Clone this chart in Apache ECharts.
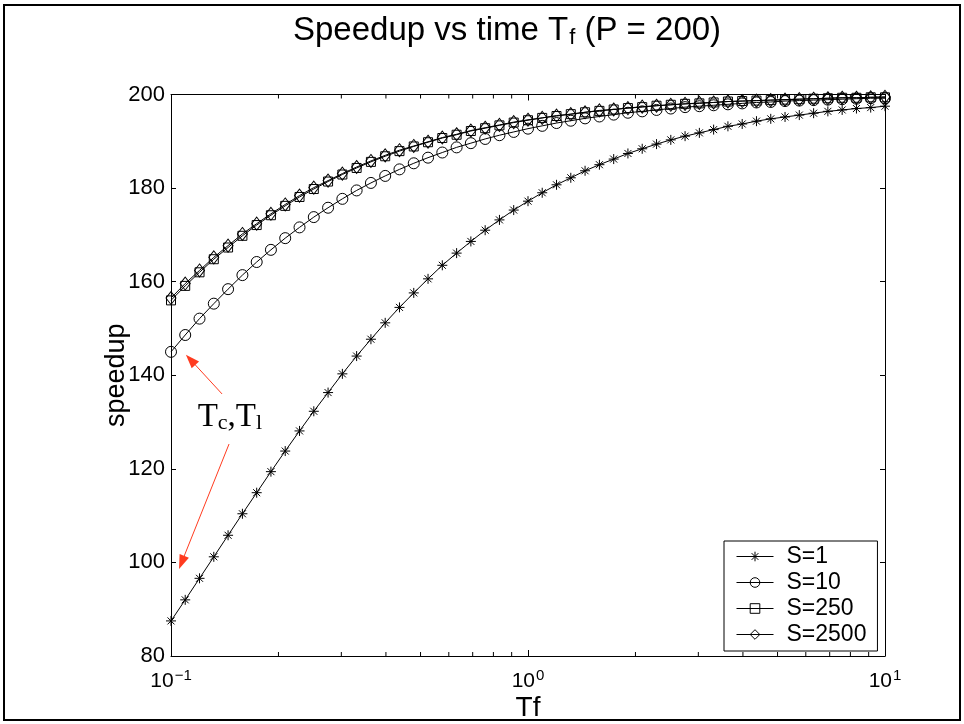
<!DOCTYPE html>
<html><head><meta charset="utf-8">
<script src="https://cdn.jsdelivr.net/npm/echarts@6/dist/echarts.min.js"></script>
<style>html,body{margin:0;padding:0;background:#fff}#c{width:964px;height:724px}</style>
</head><body><div id="c"></div>
<script>
// Tf sample positions (log-spaced)
const tf = [0.1,0.1096,0.1202,0.1318,0.1445,0.1585,0.1738,0.1905,0.2089,0.2291,0.2512,0.2754,0.3020,0.3311,0.3631,0.3981,0.4365,0.4786,0.5248,0.5754,0.6310,0.6918,0.7586,0.8318,0.9120,1.0,1.096,1.202,1.318,1.445,1.585,1.738,1.905,2.089,2.291,2.512,2.754,3.020,3.311,3.631,3.981,4.365,4.786,5.248,5.754,6.310,6.918,7.586,8.318,9.120,10];
const s1 = [87.5,92.0,96.6,101.2,105.8,110.4,114.9,119.4,123.8,128.1,132.3,136.3,140.3,144.1,147.7,151.2,154.5,157.6,160.6,163.5,166.1,168.6,171.0,173.2,175.3,177.2,179.0,180.7,182.2,183.7,185.0,186.2,187.4,188.4,189.4,190.3,191.1,191.8,192.5,193.2,193.7,194.3,194.8,195.2,195.6,196.0,196.4,196.7,197.0,197.2,197.5];
const s10 = [145.0,148.6,152.1,155.3,158.4,161.4,164.2,166.8,169.3,171.6,173.8,175.8,177.7,179.5,181.1,182.6,184.0,185.3,186.5,187.6,188.7,189.6,190.5,191.3,192.0,192.7,193.3,193.9,194.4,194.9,195.3,195.7,196.1,196.4,196.7,197.0,197.3,197.5,197.7,197.9,198.1,198.3,198.4,198.6,198.7,198.8,198.9,199.0,199.1,199.2,199.2];
const s250 = [156.0,159.1,162.0,164.8,167.3,169.8,172.1,174.2,176.2,178.1,179.8,181.4,182.9,184.3,185.6,186.8,187.9,188.9,189.8,190.7,191.4,192.2,192.8,193.4,194.0,194.5,195.0,195.4,195.8,196.2,196.5,196.8,197.1,197.3,197.6,197.8,198.0,198.1,198.3,198.5,198.6,198.7,198.8,198.9,199.0,199.1,199.2,199.3,199.3,199.4,199.4];
const s2500 = [156.5,159.6,162.4,165.2,167.7,170.2,172.4,174.5,176.5,178.4,180.1,181.6,183.1,184.5,185.8,187.0,188.1,189.0,189.9,190.8,191.5,192.3,192.9,193.5,194.1,194.6,195.0,195.5,195.8,196.2,196.6,196.8,197.1,197.4,197.6,197.8,198.0,198.2,198.3,198.5,198.6,198.7,198.8,198.9,199.0,199.1,199.2,199.3,199.3,199.4,199.5];
const seriesNames = ['S=1','S=10','S=250','S=2500'];
const xTickExps = ['\u22121','0','1'];
const xMinorTicks = [0.2,0.3,0.4,0.5,0.6,0.7,0.8,0.9,2,3,4,5,6,7,8,9];
const arrowUpper = [[0.139,136.0],[0.1135,143.3]];
const arrowLower = [[0.1454,125.3],[0.1071,100.0]];
const annotCoord = [0.1462,131.1];

const SANS = 'Liberation Sans';
const SERIF = 'Liberation Serif';
const asterisk = 'path://M0,-1L0,1M-1,0L1,0M-0.7,-0.7L0.7,0.7M-0.7,0.7L0.7,-0.7';
const red = '#ff3b1f';
const pair = arr => tf.map((x,i)=>[x,arr[i]]);

function mkSeries(name, data, symbol, size){
  return {
    name, type:'line', data: pair(data), symbol, symbolSize:size, showAllSymbol:true,
    xAxisIndex:0, yAxisIndex:0, silent:true, animation:false,
    lineStyle:{color:'#000', width:1},
    itemStyle:{color:'rgba(255,255,255,0)', borderColor:'#000', borderWidth:1},
    emphasis:{disabled:true}
  };
}

const chart = echarts.init(document.getElementById('c'), null, {renderer:'canvas'});
const s1Series = mkSeries(seriesNames[0], s1, asterisk, 10);
s1Series.markLine = {
  silent:true, symbol:['none','triangle'], symbolSize:[10,14], animation:false,
  label:{show:false}, emphasis:{disabled:true},
  lineStyle:{color:red, width:1, type:'solid'},
  data:[[{coord:arrowUpper[0]},{coord:arrowUpper[1]}],[{coord:arrowLower[0]},{coord:arrowLower[1]}]]
};
s1Series.markPoint = {
  silent:true, symbol:'circle', symbolSize:0, animation:false,
  data:[{coord:annotCoord}],
  label:{show:true, position:'inside', formatter:'{t|T}{s|c}{t|,T}{s|l}',
    rich:{ t:{fontFamily:SERIF, fontSize:33, color:'#000', lineHeight:40},
           s:{fontFamily:SERIF, fontSize:22, color:'#000', lineHeight:40, padding:[12,0,0,0]} } }
};

const option = {
  backgroundColor:'#fff',
  animation:false,
  title:{
    text:'{a|Speedup vs time T}{s|f}{a| (P = 200)}',
    left:288, top:7,
    textStyle:{ fontWeight:'normal', rich:{
      a:{fontFamily:SANS, fontSize:33, fontWeight:'normal', color:'#000', lineHeight:38},
      s:{fontFamily:SANS, fontSize:22, fontWeight:'normal', color:'#000', lineHeight:38, padding:[14,0,0,1]}
    }}
  },
  grid:{left:171, right:79, top:94.5, bottom:68, containLabel:false, outerBoundsMode:'none'},
  legend:{
    data:seriesNames, orient:'vertical', left:724, top:541,
    backgroundColor:'#fff', borderColor:'#000', borderWidth:1,
    padding:[4,11,5,12], itemGap:3, itemWidth:37, itemHeight:12,
    lineStyle:{width:1, color:'#000'},
    itemStyle:{color:'rgba(255,255,255,0)', borderColor:'#000', borderWidth:1},
    textStyle:{fontFamily:SANS, fontSize:23, color:'#000', padding:[0,0,0,8]},
    selectedMode:false
  },
  xAxis:[{
    type:'log', logBase:10, min:0.1, max:10, position:'bottom',
    axisLine:{onZero:false, lineStyle:{color:'#000', width:1}},
    axisTick:{inside:true, length:6, lineStyle:{color:'#000'}},
    splitLine:{show:false},
    axisLabel:{margin:12, color:'#000',
      formatter:(v,i)=>'{b|10}{s|'+xTickExps[i]+'}',
      rich:{ b:{fontFamily:SANS, fontSize:21, color:'#000', lineHeight:26},
             s:{fontFamily:SANS, fontSize:15, color:'#000', lineHeight:26, padding:[0,0,10,1]} } },
    name:'Tf', nameLocation:'middle', nameGap:38, nameMoveOverlap:false,
    nameTextStyle:{fontFamily:SANS, fontSize:28, color:'#000'}
  },{
    type:'log', logBase:10, min:0.1, max:10, position:'top',
    axisLine:{onZero:false, lineStyle:{color:'#000', width:1}},
    axisTick:{inside:true, length:6, lineStyle:{color:'#000'}},
    axisLabel:{show:false}, splitLine:{show:false}
  }],
  yAxis:[{
    type:'value', min:80, max:200, interval:20, position:'left',
    axisLine:{show:true, onZero:false, lineStyle:{color:'#000', width:1}},
    axisTick:{show:true, inside:true, length:5, lineStyle:{color:'#000'}},
    splitLine:{show:false},
    axisLabel:{margin:6, color:'#000', fontFamily:SANS, fontSize:22},
    name:'speedup', nameLocation:'middle', nameGap:54, nameRotate:90, nameMoveOverlap:false,
    nameTextStyle:{fontFamily:SANS, fontSize:27, color:'#000', verticalAlign:'middle'}
  },{
    type:'value', min:80, max:200, interval:20, position:'right',
    axisLine:{show:true, onZero:false, lineStyle:{color:'#000', width:1}},
    axisTick:{show:true, inside:true, length:5, lineStyle:{color:'#000'}},
    axisLabel:{show:false}, splitLine:{show:false}
  }],
  graphic:[{type:'rect', shape:{x:4, y:5, width:956, height:715}, style:{fill:'none', stroke:'#000', lineWidth:2}, silent:true, z:-1}],
  series:[
    {
      type:'custom', name:'minorTicks', xAxisIndex:0, yAxisIndex:0, silent:true, clip:false,
      data:xMinorTicks.map(v=>[v, 80]),
      renderItem:(params, api)=>{
        const v = api.value(0);
        const b = api.coord([v, 80]);
        const t = api.coord([v, 200]);
        return {type:'group', children:[
          {type:'line', shape:{x1:b[0], y1:b[1], x2:b[0], y2:b[1]-4}, style:{stroke:'#000', lineWidth:1}},
          {type:'line', shape:{x1:t[0], y1:t[1], x2:t[0], y2:t[1]+4}, style:{stroke:'#000', lineWidth:1}}
        ]};
      }
    },
    s1Series,
    mkSeries(seriesNames[1], s10, 'circle', 11),
    mkSeries(seriesNames[2], s250, 'rect', 9),
    mkSeries(seriesNames[3], s2500, 'diamond', [10,13])
  ]
};
chart.setOption(option);
</script>
</body></html>
